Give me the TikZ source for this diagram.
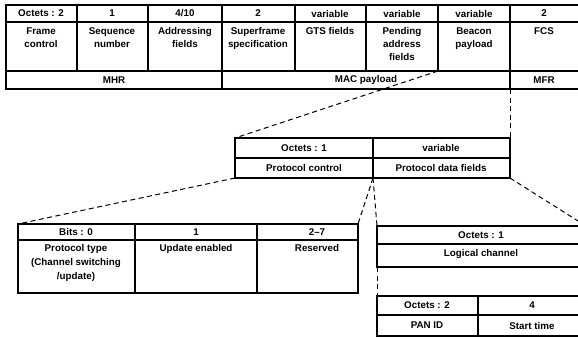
\documentclass[tikz,border=0pt]{standalone}
\usepackage{fontspec}
\setmainfont{Liberation Sans}
\usetikzlibrary{arrows}

\begin{document}
\begin{tikzpicture}[x=1pt, y=-1pt, line width=1.25pt,
		font=\bfseries\fontsize{9.8}{13}\selectfont,
		lbl/.style={inner sep=0pt, align=center},
		top/.style={lbl, anchor=north},
		link/.style={line width=1pt, dash pattern=on 5pt off 3.5pt}]
		\useasboundingbox (0,0) rectangle (578,338);
		\clip (0,0) rectangle (578,338);
		
		% MAC frame
		\draw (6,5) rectangle (592,89);
		\draw (6,22) -- (592,22) (6,71) -- (592,71);
		\foreach \x in {77,148,222,295,366,438,510} \draw (\x,5) -- (\x,71);
		\draw (222,71) -- (222,89) (510,71) -- (510,89);
		
		\node[lbl] (o-fc) at (41,13.5) {Octets : 2};
		\node[lbl] (o-seq) at (112,13.5) {1};
		\node[lbl] (o-adr) at (185,13.5) {4/10};
		\node[lbl] (o-sf) at (258,13.5) {2};
		\node[lbl] (o-gts) at (330,13.5) {variable};
		\node[lbl] (o-pnd) at (402,13.5) {variable};
		\node[lbl] (o-bp) at (474,13.5) {variable};
		\node[lbl] (o-fcs) at (544,13.5) {2};
		
		\node[top] (fc) at (41,27) {Frame\\control};
		\node[top] (seq) at (112,27) {Sequence\\number};
		\node[top] (adr) at (185,27) {Addressing\\fields};
		\node[top] (sf) at (258,27) {Superframe\\specification};
		\node[top] (gts) at (330,27) {GTS fields};
		\node[top] (pnd) at (402,27) {Pending\\address\\fields};
		\node[top] (bp) at (474,27) {Beacon\\payload};
		\node[top] (fcs) at (544,27) {FCS};
		
		\node[lbl] (mhr) at (114,80) {MHR};
		\node[lbl] (pay) at (366,80) {MAC payload};
		\node[lbl] (mfr) at (544,80) {MFR};
		
		% beacon payload
		\draw (235,138) rectangle (510,178);
		\draw (235,158) -- (510,158) (373,138) -- (373,178);
		\node[lbl] (o-pc) at (304,148) {Octets : 1};
		\node[lbl] (o-pd) at (441,148) {variable};
		\node[lbl] (pc) at (304,168) {Protocol control};
		\node[lbl] (pd) at (441,168) {Protocol data fields};
		
		% protocol control
		\draw (18,224) rectangle (358,293);
		\draw (18,240) -- (358,240) (135,224) -- (135,293) (257,224) -- (257,293);
		\node[lbl] (b-pt) at (76,232) {Bits : 0};
		\node[lbl] (b-ue) at (196,232) {1};
		\node[lbl] (b-rs) at (317,232) {2--7};
		\node[top, font=\bfseries\fontsize{9.8}{14}\selectfont] (pt) at (76,244) {Protocol type\\(Channel switching\\/update)};
		\node[top] (ue) at (196,244) {Update enabled};
		\node[top] (rs) at (317,244) {Reserved};
		
		% protocol data fields
		\draw (592,226) -- (377,226) -- (377,267) -- (592,267) (377,244) -- (592,244);
		\node[lbl] (o-lc) at (481,235) {Octets : 1};
		\node[lbl] (lc) at (481,254) {Logical channel};
		\draw (592,296) -- (377,296) -- (377,336) -- (592,336) (377,315) -- (592,315) (478,296) -- (478,336);
		\node[lbl] (o-pan) at (427,305.5) {Octets : 2};
		\node[lbl] (o-st) at (532,305.5) {4};
		\node[lbl] (pan) at (427,325.5) {PAN ID};
		\node[lbl] (st) at (532,325.5) {Start time};
		
		\coordinate (bp-sw) at (438,71);
		\coordinate (mfr-sw) at (510,89);
		\coordinate (pc-nw) at (235,138);
		\coordinate (pc-ne) at (510,138);
		\coordinate (pc-sw) at (235,178);
		\coordinate (pc-s) at (373,178);
		\coordinate (pc-se) at (510,178);
		\coordinate (pt-nw) at (18,224);
		\coordinate (pt-ne) at (358,224);
		\coordinate (lc-nw) at (377,226);
		\coordinate (lc-ne) at (586,226);
		\coordinate (lc-sw) at (377,267);
		\coordinate (pan-nw) at (377,296);
		
		\path[link] (bp-sw) edge (pc-nw)
			(mfr-sw) edge (pc-ne)
			(pc-sw) edge (pt-nw)
			(pc-s) edge (pt-ne)
			(pc-s) edge (lc-nw)
			(pc-se) edge (lc-ne)
			(lc-sw) edge (pan-nw);
	\end{tikzpicture}
\end{document}
